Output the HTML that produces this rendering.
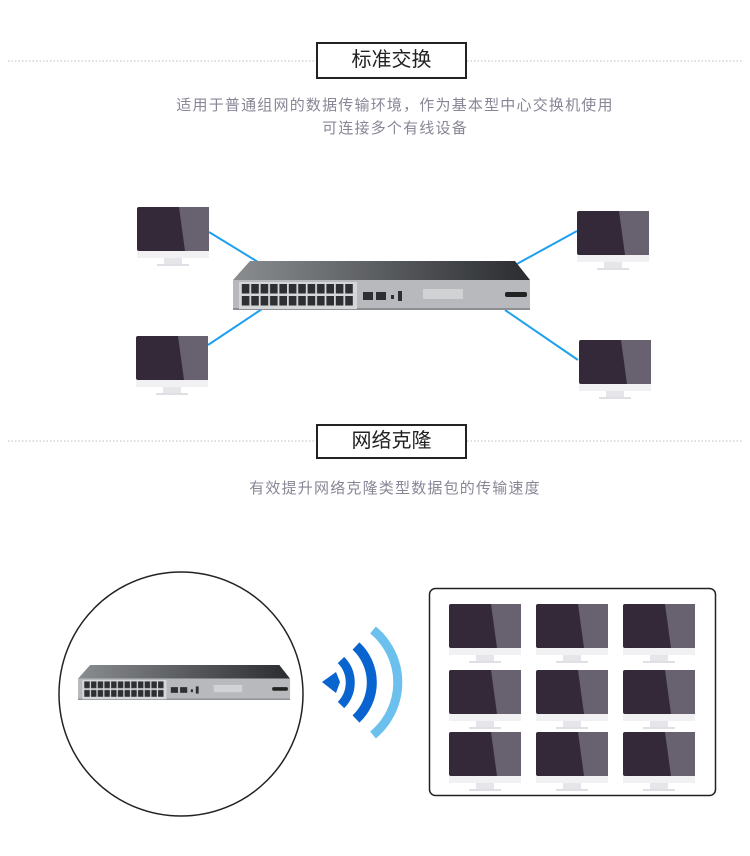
<!DOCTYPE html><html><head><meta charset="utf-8"><style>
body{margin:0;background:#fff;width:750px;height:856px;overflow:hidden;position:relative;font-family:"Liberation Sans","Noto Sans CJK SC",sans-serif}
.t{position:absolute;left:20px;width:750px;text-align:center;color:#8a8596;font-size:15px;letter-spacing:1.2px}
.box{position:absolute;border:2px solid #222;background:#fff;font-size:20px;color:#222;text-align:center;box-sizing:border-box}
</style></head><body>
<svg width="750" height="856" style="position:absolute;left:0;top:0">
<defs>
<g id="m">
<rect x="0" y="0" width="72" height="44" rx="2" fill="#342938"/>
<polygon points="42,0 72,0 72,44 48,44" fill="#676170"/>
<rect x="0" y="44" width="72" height="7" fill="#f1f1f3"/>
<rect x="27" y="51" width="18" height="6" fill="#e6e6ea"/>
<rect x="20" y="57" width="32" height="2" fill="#e0e0e4"/>
</g>
<linearGradient id="top" x1="0" x2="1"><stop offset="0" stop-color="#8a8d90"/><stop offset="1" stop-color="#2a2c2f"/></linearGradient>
<pattern id="pt" x="8" y="22" width="9.4" height="12" patternUnits="userSpaceOnUse">
<rect x="0.8" y="1" width="7.6" height="9.5" fill="#2d2f33"/>
</pattern>
<g id="sw">
<polygon points="17,0 282,0 297,19 0,19" fill="url(#top)"/>
<rect x="0" y="19" width="297" height="30" fill="#b7b9bc"/>
<rect x="0" y="47" width="297" height="2" fill="#8d8f92"/>
<rect x="6" y="21" width="118" height="27" fill="#d4d6d8"/>
<rect x="8" y="22" width="113" height="24" fill="url(#pt)"/>
<rect x="130" y="31" width="10" height="8" fill="#2d2f33"/>
<rect x="143" y="31" width="10" height="8" fill="#2d2f33"/>
<rect x="158" y="34" width="3" height="4" fill="#2d2f33"/>
<rect x="165" y="30" width="4" height="10" fill="#2d2f33"/>
<rect x="190" y="28" width="40" height="10" fill="#d0d2d4"/>
<rect x="272" y="31" width="22" height="5" rx="2" fill="#222"/>
</g>
</defs>
<line x1="8" y1="61" x2="316" y2="61" stroke="#bbb" stroke-dasharray="1.5,2"/>
<line x1="467" y1="61" x2="742" y2="61" stroke="#bbb" stroke-dasharray="1.5,2"/>
<line x1="8" y1="441" x2="316" y2="441" stroke="#bbb" stroke-dasharray="1.5,2"/>
<line x1="467" y1="441" x2="742" y2="441" stroke="#bbb" stroke-dasharray="1.5,2"/>
<g stroke="#1ea0f0" stroke-width="2">
<line x1="209" y1="232" x2="258" y2="262"/><line x1="577" y1="231" x2="515" y2="265"/>
<line x1="208" y1="345" x2="262" y2="309"/><line x1="578" y1="360" x2="505" y2="310"/>
</g>
<use href="#m" x="137" y="207"/><use href="#m" x="577" y="211"/>
<use href="#m" x="136" y="336"/><use href="#m" x="579" y="340"/>
<use href="#sw" x="233" y="261"/>
<circle cx="181" cy="694" r="122" fill="#fff" stroke="#222" stroke-width="1.5"/>
<use href="#sw" transform="translate(78,665) scale(0.714)"/>
<polygon points="322,682 336,672 340,682 336,693" fill="#0a64d0"/>
<path d="M341,660 A32,32 0 0 1 341,705" stroke="#0a64d0" stroke-width="9" fill="none"/>
<path d="M356,646 A50,50 0 0 1 356,719" stroke="#0a64d0" stroke-width="10" fill="none"/>
<path d="M373,630 A68,68 0 0 1 373,735" stroke="#6cc0ee" stroke-width="9" fill="none"/>
<rect x="429.5" y="588.5" width="286" height="207" rx="6" fill="#fff" stroke="#222" stroke-width="1.5"/>
<use href="#m" x="449" y="604"/><use href="#m" x="536" y="604"/><use href="#m" x="623" y="604"/>
<use href="#m" x="449" y="670"/><use href="#m" x="536" y="670"/><use href="#m" x="623" y="670"/>
<use href="#m" x="449" y="732"/><use href="#m" x="536" y="732"/><use href="#m" x="623" y="732"/>
</svg>
<div class="box" style="left:316px;top:42px;width:151px;height:37px;line-height:33px">标准交换</div>
<div class="t" style="top:94px">适用于普通组网的数据传输环境，作为基本型中心交换机使用</div>
<div class="t" style="top:117px">可连接多个有线设备</div>
<div class="box" style="left:316px;top:424px;width:151px;height:35px;line-height:31px">网络克隆</div>
<div class="t" style="top:477px">有效提升网络克隆类型数据包的传输速度</div>
</body></html>
